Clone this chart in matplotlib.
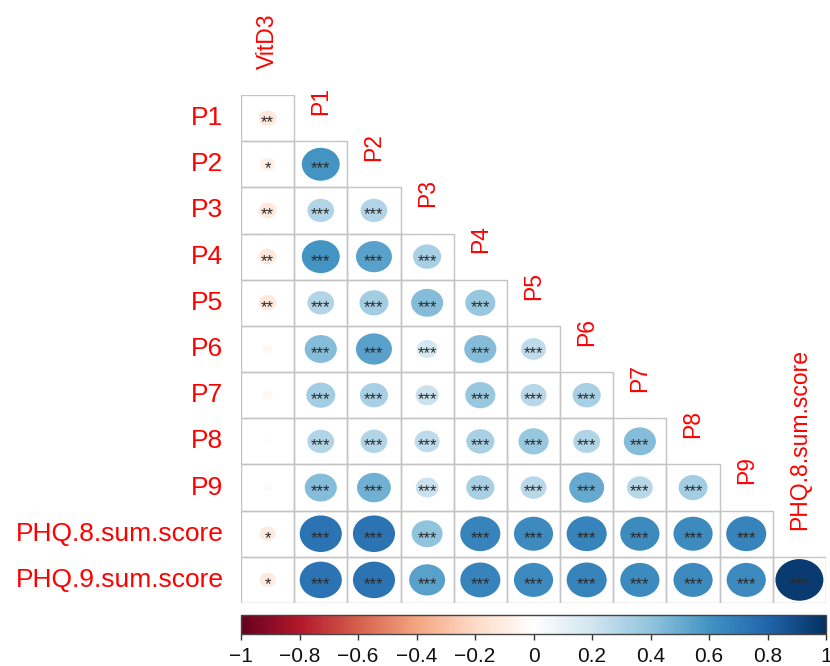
import numpy as np
import matplotlib
matplotlib.use('Agg')
import matplotlib.pyplot as plt
import matplotlib.transforms as mtransforms
from matplotlib.patches import Ellipse, Rectangle
from matplotlib.colors import LinearSegmentedColormap, Normalize
from matplotlib.cm import ScalarMappable

plt.rcParams['font.family'] = ['Liberation Sans', 'DejaVu Sans']

row_labels = ['P1', 'P2', 'P3', 'P4', 'P5', 'P6', 'P7', 'P8', 'P9',
              'PHQ.8.sum.score', 'PHQ.9.sum.score']
col_labels = ['VitD3', 'P1', 'P2', 'P3', 'P4', 'P5', 'P6', 'P7', 'P8', 'P9',
              'PHQ.8.sum.score']

# lower triangle, one list per row
corr = [
    [-0.13],
    [-0.09, 0.60],
    [-0.13, 0.30, 0.30],
    [-0.13, 0.60, 0.54, 0.33],
    [-0.13, 0.30, 0.35, 0.43, 0.38],
    [-0.04, 0.43, 0.54, 0.18, 0.43, 0.26],
    [-0.04, 0.35, 0.33, 0.22, 0.38, 0.28, 0.33],
    [0.02, 0.30, 0.30, 0.26, 0.33, 0.38, 0.30, 0.43],
    [-0.03, 0.43, 0.48, 0.22, 0.33, 0.28, 0.51, 0.28, 0.35],
    [-0.11, 0.74, 0.74, 0.40, 0.67, 0.64, 0.67, 0.64, 0.64, 0.67],
    [-0.11, 0.74, 0.74, 0.54, 0.67, 0.64, 0.67, 0.64, 0.64, 0.64, 0.96],
]
stars = [
    ['**'],
    ['*', '***'],
    ['**', '***', '***'],
    ['**', '***', '***', '***'],
    ['**', '***', '***', '***', '***'],
    ['', '***', '***', '***', '***', '***'],
    ['', '***', '***', '***', '***', '***', '***'],
    ['', '***', '***', '***', '***', '***', '***', '***'],
    ['', '***', '***', '***', '***', '***', '***', '***', '***'],
    ['*', '***', '***', '***', '***', '***', '***', '***', '***', '***'],
    ['*', '***', '***', '***', '***', '***', '***', '***', '***', '***', '***'],
]

# corrplot's RdBu ramp
cmap = LinearSegmentedColormap.from_list('rdbu', [
    '#67001F', '#B2182B', '#D6604D', '#F4A582', '#FDDBC7', '#FFFFFF',
    '#D1E5F0', '#92C5DE', '#4393C3', '#2166AC', '#053061'])
norm = Normalize(-1, 1)

W, H = 830, 666
fig = plt.figure(figsize=(W / 100, H / 100), dpi=100)
ax = fig.add_axes([241 / W, 1 - 603 / H, 585 / W, 508 / H])
n = len(row_labels)
ax.set_xlim(0, n)
ax.set_ylim(n, 0)
ax.axis('off')

star_tr = mtransforms.offset_copy(ax.transData, fig=fig, x=0, y=-6.5, units='points')
lab_tr = mtransforms.offset_copy(ax.transData, fig=fig, x=0, y=19, units='points')

for i, row in enumerate(corr):
    for j, r in enumerate(row):
        ax.add_patch(Rectangle((j, i), 1, 1, facecolor='none',
                               edgecolor='#c4c4c4', lw=1.0, zorder=1))
        d = 0.92 * np.sqrt(abs(r))
        ax.add_patch(Ellipse((j + 0.5, i + 0.5), d, d, facecolor=cmap(norm(r)),
                             edgecolor='none', zorder=2))
        if stars[i][j]:
            ax.text(j + 0.5, i + 0.5, stars[i][j], transform=star_tr,
                    ha='center', va='baseline', fontsize=12, color='#2a2a2a',
                    zorder=3)

for i, lab in enumerate(row_labels):
    ax.text(-0.33, i + 0.5, lab, ha='right', va='center', fontsize=19,
            color='red', clip_on=False)

for j, lab in enumerate(col_labels):
    ax.text(j + 0.5, j, lab, transform=lab_tr, rotation=90, ha='center',
            va='bottom', fontsize=16.5, color='red', clip_on=False)

# colour legend
cax = fig.add_axes([241 / W, 1 - 634 / H, 585 / W, 19 / H])
cb = fig.colorbar(ScalarMappable(norm=norm, cmap=cmap), cax=cax,
                  orientation='horizontal')
ticks = np.round(np.arange(-1, 1.01, 0.2), 1)
cb.set_ticks(ticks)
cb.set_ticklabels(['0' if t == 0 else ('%g' % t).replace('-', '\u2212') for t in ticks])
cb.outline.set_edgecolor('#444444')
cb.outline.set_linewidth(1.0)
cax.tick_params(axis='x', length=4, width=1, color='#333333', labelsize=15,
                pad=5, labelcolor='#111111')

fig.savefig('out.png', dpi=100)
